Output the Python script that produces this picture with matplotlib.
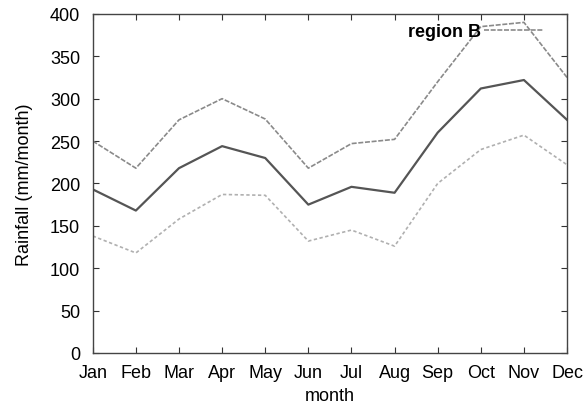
import matplotlib
matplotlib.use("Agg")
import matplotlib.pyplot as plt

months = ["Jan", "Feb", "Mar", "Apr", "May", "Jun", "Jul", "Aug", "Sep", "Oct", "Nov", "Dec"]
upper = [250, 218, 275, 300, 276, 218, 247, 252, 320, 385, 390, 325]
middle = [193, 168, 218, 244, 230, 175, 196, 189, 260, 312, 322, 275]
lower = [138, 118, 158, 187, 186, 132, 145, 126, 200, 240, 257, 222]
yticks = [0, 50, 100, 150, 200, 250, 300, 350, 400]

plt.rcParams['font.family'] = ['Liberation Sans', 'DejaVu Sans']

fig = plt.figure(figsize=(5.87, 4.14), dpi=100)
ax = fig.add_axes([0.158, 0.145, 0.808, 0.819])

x = list(range(len(months)))
ax.plot(x, upper, color='#8a8a8a', lw=1.2, ls=(0, (3, 1)), label='region B')
ax.plot(x, middle, color='#555555', lw=1.6, ls='-')
ax.plot(x, lower, color='#b0b0b0', lw=1.2, ls=(0, (2, 1.5)))

ax.set_xlim(0, 11)
ax.set_ylim(0, 400)
ax.set_xticks(x)
ax.set_xticklabels(months, fontsize=13)
ax.set_yticks(yticks)
ax.set_yticklabels([str(v) for v in yticks], fontsize=13)
ax.tick_params(direction='in', top=True, right=True, length=4, width=0.8, color='#333333')
ax.tick_params(axis='y', pad=9)
ax.tick_params(axis='x', pad=8)
for s in ax.spines.values():
    s.set_color('#444444')
    s.set_linewidth(1.0)

ax.set_xlabel('month', fontsize=13, labelpad=4)
ax.set_ylabel('Rainfall (mm/month)', fontsize=13, labelpad=12)

leg = ax.legend(loc='upper right', frameon=False, prop={'size': 13, 'weight': 'bold'},
                handlelength=3.3, borderaxespad=0.1, handletextpad=0.2, markerfirst=False,
                bbox_to_anchor=(0.97, 1.0))

fig.savefig('out.png', dpi=100)
